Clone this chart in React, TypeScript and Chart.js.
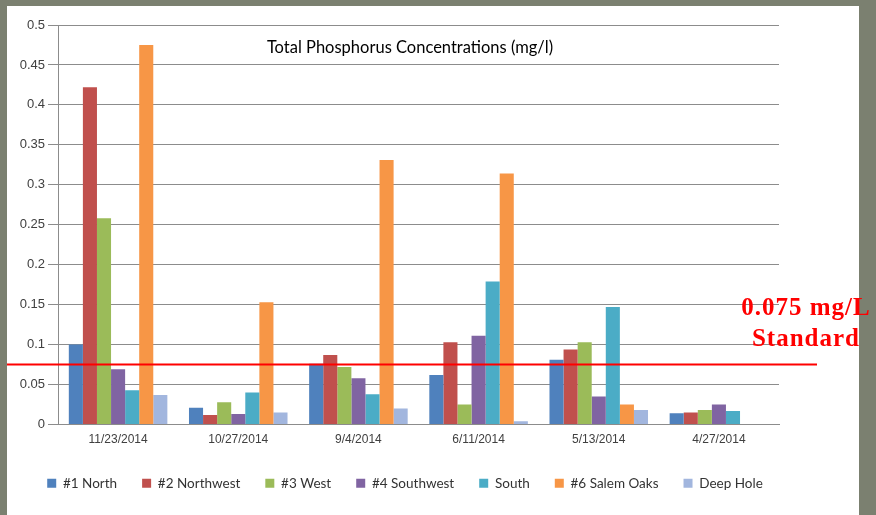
import React, { useEffect, useRef } from "react";
import { Chart, registerables } from "chart.js";

Chart.register(...registerables);

const categories = ["11/23/2014", "10/27/2014", "9/4/2014", "6/11/2014", "5/13/2014", "4/27/2014"];
const seriesNames = ["#1 North", "#2 Northwest", "#3 West", "#4 Southwest", "South", "#6 Salem Oaks", "Deep Hole"];
const north = [0.1, 0.021, 0.076, 0.062, 0.081, 0.014];
const northwest = [0.422, 0.012, 0.087, 0.103, 0.094, 0.015];
const west = [0.258, 0.028, 0.072, 0.025, 0.103, 0.018];
const southwest = [0.069, 0.013, 0.058, 0.111, 0.035, 0.025];
const south = [0.043, 0.04, 0.038, 0.179, 0.147, 0.017];
const salemOaks = [0.475, 0.153, 0.331, 0.314, 0.025, null];
const deepHole = [0.037, 0.015, 0.02, 0.004, 0.018, null];
const seriesColors = ["#4F81BD", "#C0504D", "#9BBB59", "#8064A2", "#4BACC6", "#F79646", "#A2B6DE"];
const standardValue = 0.075;
const yTicks = [0, 0.05, 0.1, 0.15, 0.2, 0.25, 0.3, 0.35, 0.4, 0.45, 0.5];

const standardLine = {
  id: "standardLine",
  afterDatasetsDraw(chart: any) {
    const y = chart.scales.y.getPixelForValue(standardValue);
    const ctx = chart.ctx;
    ctx.save();
    ctx.strokeStyle = "#FF0000";
    ctx.lineWidth = 2;
    ctx.beginPath();
    ctx.moveTo(0, y);
    ctx.lineTo(810, y);
    ctx.stroke();
    ctx.restore();
  },
};

const legendShift = {
  id: "legendShift",
  afterLayout(chart: any) {
    if (chart.legend) {
      chart.legend.left += 12;
      chart.legend.right += 12;
    }
  },
};

export default function App() {
  const ref = useRef<HTMLCanvasElement>(null);
  useEffect(() => {
    const values = [north, northwest, west, southwest, south, salemOaks, deepHole];
    const chart = new Chart(ref.current!, {
      type: "bar",
      data: {
        labels: categories,
        datasets: seriesNames.map((name, i) => ({
          label: name,
          data: values[i],
          backgroundColor: seriesColors[i],
          borderWidth: 0,
          categoryPercentage: 0.82,
          barPercentage: 1.0,
        })),
      },
      options: {
        animation: false,
        responsive: false,
        maintainAspectRatio: false,
        layout: { padding: { left: 0, right: 80, top: 19, bottom: 15 } },
        plugins: {
          title: { display: false },
          tooltip: { enabled: false },
          legend: {
            position: "bottom",
            labels: {
              boxWidth: 9,
              boxHeight: 9,
              padding: 25,
              color: "#333333",
              font: { family: "Lato", size: 13.5 },
            },
          },
        },
        scales: {
          x: {
            grid: { display: false, drawTicks: false },
            border: { display: true, color: "#8c8c8c", width: 1 },
            ticks: { color: "#404040", font: { family: "Liberation Sans", size: 12 }, padding: 8, maxRotation: 0 },
            afterFit: (s: any) => { s.height = 27; },
          },
          y: {
            min: 0,
            max: 0.5,
            afterBuildTicks: (s: any) => { s.ticks = yTicks.map((v) => ({ value: v })); },
            ticks: {
              color: "#404040",
              font: { family: "Liberation Sans", size: 13 },
              padding: 3,
              callback: (v: any) => String(Number(Number(v).toFixed(3))),
            },
            grid: { color: "#8c8c8c", lineWidth: 1, drawTicks: true, tickLength: 10 },
            border: { display: true, color: "#8c8c8c", width: 1 },
            afterFit: (s: any) => { s.width = 51; },
          },
        },
      },
      plugins: [standardLine, legendShift],
    });
    return () => chart.destroy();
  }, []);

  return (
    <div style={{ position: "absolute", left: 0, top: 0, width: 876, height: 515, overflow: "hidden", background: "#7b8070" }}>
      <div style={{ position: "absolute", left: 7, top: 6, width: 852, height: 509, background: "#ffffff" }}>
        <canvas ref={ref} width={852} height={509} style={{ display: "block", width: 852, height: 509 }} />
      </div>
      <div style={{ position: "absolute", left: 210, top: 37, width: 400, textAlign: "center", fontFamily: "Lato", fontSize: 16.5, color: "#000" }}>
        Total Phosphorus Concentrations (mg/l)
      </div>
      <div style={{ position: "absolute", left: 716, top: 291, width: 180, textAlign: "center", fontFamily: "Liberation Serif", fontWeight: "bold", fontSize: 25, lineHeight: "31px", color: "#FF0000", letterSpacing: 1 }}>
        0.075 mg/L<br />Standard
      </div>
    </div>
  );
}
